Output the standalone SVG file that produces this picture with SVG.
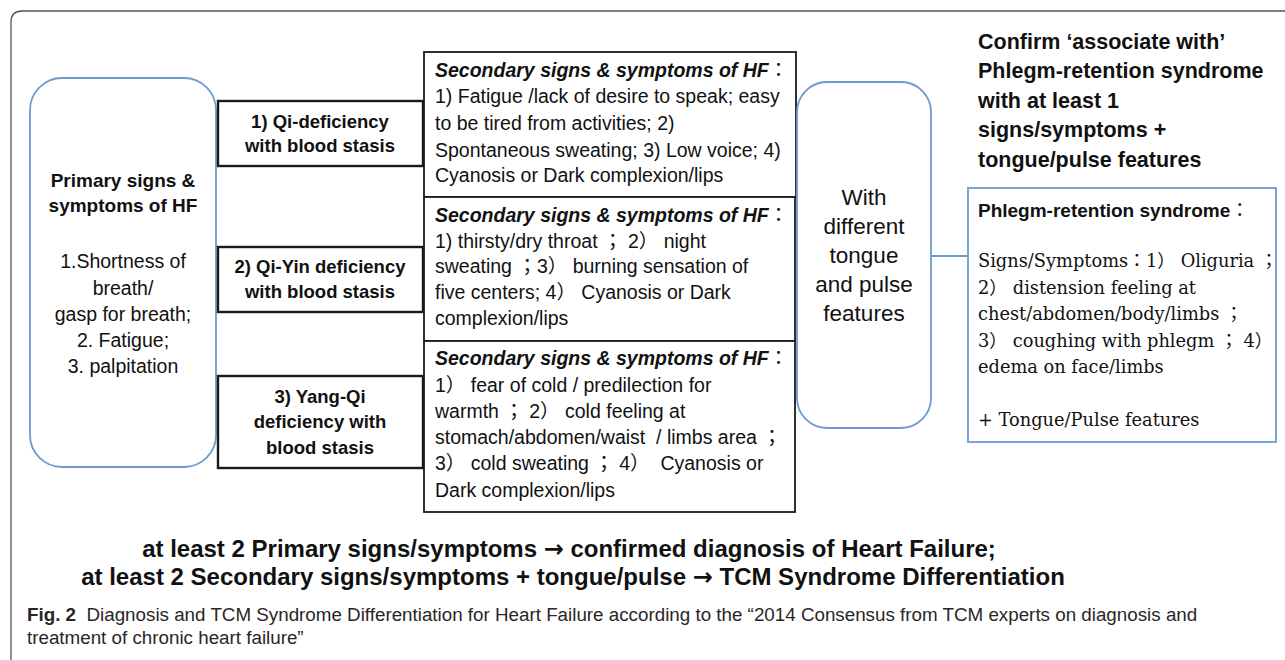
<svg xmlns="http://www.w3.org/2000/svg" width="1285" height="660" viewBox="0 0 1285 660">
<style>
text{font-family:"Liberation Sans","Noto Sans CJK TC",sans-serif;fill:#111;}
.b{font-weight:bold;}
.bi{font-weight:bold;font-style:italic;}
.c{text-anchor:middle;}
.blue{fill:#fff;stroke:#6b9bd1;stroke-width:1.8;}
.blk{fill:#fff;stroke:#1a1a1a;stroke-width:2.4;}
.blk2{fill:#fff;stroke:#1a1a1a;stroke-width:1.8;}
.serif{font-family:"DejaVu Serif","Noto Sans CJK TC",serif;}
.cap{fill:#2a2627;}
.arr{font-family:"DejaVu Sans",sans-serif;font-weight:bold;}
</style>
<rect width="1285" height="660" fill="#fff"/>
<path d="M11 660 L11 22 Q11 11 22 11 L1285 11" fill="none" stroke="#555" stroke-width="1.3"/>

<g id="connectors">
<line x1="931" y1="256" x2="968" y2="256" stroke="#6b9bd1" stroke-width="1.8"/>
</g>

<g id="primary">
<rect class="blue" x="30" y="78" width="186" height="389" rx="32"/>
<g font-size="19">
<text class="b c" x="123" y="187">Primary signs &amp;</text>
<text class="b c" x="123" y="212">symptoms of HF</text>
</g>
<g font-size="19.5">
<text class="c" x="123" y="268">1.Shortness of</text>
<text class="c" x="123" y="295">breath/</text>
<text class="c" x="123" y="321">gasp for breath;</text>
<text class="c" x="123" y="347">2. Fatigue;</text>
<text class="c" x="123" y="373">3. palpitation</text>
</g>
</g>

<g id="type1">
<rect class="blk" x="218" y="101" width="205" height="65"/>
<text class="b c" x="320" y="128" font-size="18.5">1) Qi-deficiency</text>
<text class="b c" x="320" y="152" font-size="18.5">with blood stasis</text>
</g>
<g id="type2">
<rect class="blk" x="218" y="247" width="205" height="65"/>
<text class="b c" x="320" y="273" font-size="18.5">2) Qi-Yin deficiency</text>
<text class="b c" x="320" y="298" font-size="18.5">with blood stasis</text>
</g>
<g id="type3">
<rect class="blk" x="218" y="376" width="205" height="92"/>
<text class="b c" x="320" y="403" font-size="18.5">3) Yang-Qi</text>
<text class="b c" x="320" y="428" font-size="18.5">deficiency with</text>
<text class="b c" x="320" y="454" font-size="18.5">blood stasis</text>
</g>

<g id="secondary1" font-size="19.5">
<rect class="blk2" x="424" y="52" width="372" height="145"/>
<text class="bi" x="435" y="77">Secondary signs &amp; symptoms of HF<tspan font-weight="normal" font-style="normal">：</tspan></text>
<text x="435" y="103">1) Fatigue /lack of desire to speak; easy</text>
<text x="435" y="130">to be tired from activities; 2)</text>
<text x="435" y="157">Spontaneous sweating; 3) Low voice; 4)</text>
<text x="435" y="182">Cyanosis or Dark complexion/lips</text>
</g>

<g id="secondary2" font-size="19.5">
<rect class="blk2" x="424" y="197" width="371" height="144"/>
<text class="bi" x="435" y="222">Secondary signs &amp; symptoms of HF<tspan font-weight="normal" font-style="normal">：</tspan></text>
<text x="435" y="248" xml:space="preserve">1) thirsty/dry throat ； 2） night</text>
<text x="435" y="273" xml:space="preserve">sweating ；3） burning sensation of</text>
<text x="435" y="299" xml:space="preserve">five centers; 4） Cyanosis or Dark</text>
<text x="435" y="325">complexion/lips</text>
</g>

<g id="secondary3" font-size="19.5">
<rect class="blk2" x="424" y="341" width="371" height="171"/>
<text class="bi" x="435" y="365">Secondary signs &amp; symptoms of HF<tspan font-weight="normal" font-style="normal">：</tspan></text>
<text x="435" y="392" xml:space="preserve">1） fear of cold / predilection for</text>
<text x="435" y="418" xml:space="preserve">warmth ； 2） cold feeling at</text>
<text x="435" y="444" xml:space="preserve">stomach/abdomen/waist  / limbs area ；</text>
<text x="435" y="470" xml:space="preserve">3） cold sweating ； 4）  Cyanosis or</text>
<text x="435" y="497">Dark complexion/lips</text>
</g>

<g id="tongue-pulse">
<rect class="blue" x="797" y="82" width="134" height="346" rx="30"/>
<g font-size="22.5">
<text class="c" x="864" y="205">With</text>
<text class="c" x="864" y="234">different</text>
<text class="c" x="864" y="263">tongue</text>
<text class="c" x="864" y="292">and pulse</text>
<text class="c" x="864" y="321">features</text>
</g>
</g>

<g id="confirm" font-size="21.5">
<text class="b" x="978" y="49">Confirm ‘associate with’</text>
<text class="b" x="978" y="78">Phlegm-retention syndrome</text>
<text class="b" x="978" y="108">with at least 1</text>
<text class="b" x="978" y="137">signs/symptoms +</text>
<text class="b" x="978" y="167">tongue/pulse features</text>
</g>

<g id="phlegm">
<rect fill="#fff" stroke="#6b9bd1" stroke-width="1.8" x="968" y="188" width="308" height="254"/>
<text class="b" x="978" y="217" font-size="19">Phlegm-retention syndrome<tspan font-weight="normal">：</tspan></text>
<g font-size="17.8">
<text class="serif" x="978" y="267" xml:space="preserve">Signs/Symptoms：1） Oliguria ；</text>
<text class="serif" x="978" y="294" xml:space="preserve">2） distension feeling at</text>
<text class="serif" x="978" y="320" xml:space="preserve">chest/abdomen/body/limbs ；</text>
<text class="serif" x="978" y="347" xml:space="preserve">3） coughing with phlegm ； 4）</text>
<text class="serif" x="978" y="373">edema on face/limbs</text>
<text class="serif" x="978" y="426">+ Tongue/Pulse features</text>
</g>
</g>

<g id="summary" font-size="24">
<text class="b c" x="569" y="557">at least 2 Primary signs/symptoms <tspan class="arr">→</tspan> confirmed diagnosis of Heart Failure;</text>
<text class="b c" x="573" y="585">at least 2 Secondary signs/symptoms + tongue/pulse <tspan class="arr">→</tspan> TCM Syndrome Differentiation</text>
</g>

<g id="caption" font-size="18.8">
<text class="cap" x="27" y="621" xml:space="preserve"><tspan font-weight="bold">Fig. 2</tspan>  Diagnosis and TCM Syndrome Differentiation for Heart Failure according to the “2014 Consensus from TCM experts on diagnosis and</text>
<text class="cap" x="27" y="644">treatment of chronic heart failure”</text>
</g>
</svg>
